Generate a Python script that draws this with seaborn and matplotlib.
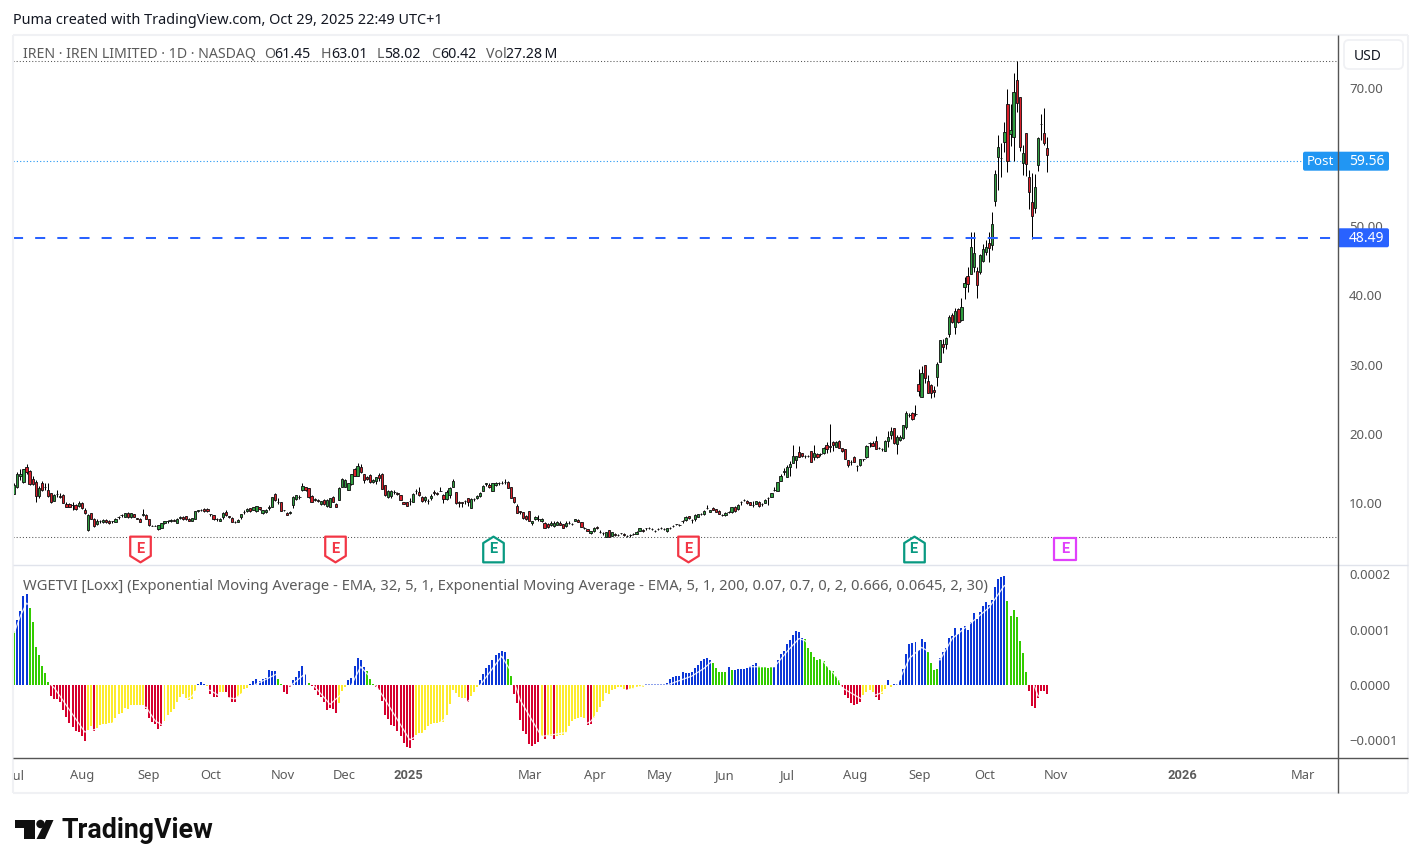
import numpy as np
import pandas as pd
import matplotlib
matplotlib.use("Agg")
import matplotlib.pyplot as plt
import matplotlib.transforms as mtransforms
from matplotlib.lines import Line2D
from matplotlib.patches import FancyBboxPatch, Polygon, Circle, Rectangle
from matplotlib.path import Path
import seaborn as sns

# Daily IREN prices, one entry per session
opens = [
    11.5,12.4,14.1,13.2,15.4,14.7,13.6,13.2,11.1,13.1,
    12.45,12.0,11.55,10.4,11.5,11.2,11.3,10.0,10.0,9.85,
    9.85,9.75,10.2,9.1,6.2,8.65,7.9,7.05,7.55,7.35,
    7.7,7.55,7.55,7.45,8.05,8.35,8.15,8.7,8.1,8.55,
    7.95,7.85,8.45,8.45,7.8,6.85,6.85,6.45,6.6,7.2,
    7.5,7.6,7.65,7.3,8.0,8.1,8.2,7.9,7.6,7.9,
    9.05,9.1,9.3,9.3,8.55,8.35,7.85,7.6,8.05,8.8,
    8.2,8.0,7.4,7.45,8.1,8.8,9.0,9.35,9.15,9.0,
    9.5,8.65,8.8,9.4,9.6,11.4,10.3,10.3,9.1,8.75,
    8.65,9.9,10.75,11.05,12.0,12.4,12.25,11.2,10.65,10.55,
    10.05,10.65,9.75,9.6,11.05,10.0,10.65,12.5,12.5,12.0,
    12.85,15.0,14.1,15.4,14.3,13.85,14.2,13.15,13.3,14.2,
    14.3,12.75,11.05,11.2,11.8,11.55,11.3,10.3,10.25,10.4,
    10.35,11.85,11.7,11.05,10.55,10.5,10.85,11.7,11.55,11.9,
    11.3,10.7,11.3,12.5,11.7,10.35,10.25,10.4,10.8,9.4,
    10.7,10.8,11.2,11.95,12.95,12.75,11.95,12.75,13.0,13.1,
    13.15,13.2,12.5,10.95,9.7,8.95,8.8,8.3,8.95,7.2,
    7.8,7.85,7.5,7.3,7.1,6.95,6.8,6.95,7.3,7.05,
    6.8,7.25,7.15,7.55,7.75,7.35,6.6,6.4,5.75,6.15,
    6.7,6.0,5.85,5.3,6.2,5.4,5.7,5.55,5.8,5.7,
    5.4,5.5,5.65,5.7,6.15,6.3,6.5,6.55,6.45,6.15,
    6.35,6.55,6.45,6.05,6.6,6.85,7.05,7.0,7.6,7.75,
    8.2,7.7,7.9,8.15,8.6,8.5,9.4,8.9,9.45,9.25,
    9.05,8.35,8.35,8.9,8.8,9.6,9.25,10.35,10.55,10.45,
    10.3,9.9,10.05,10.35,10.0,10.2,10.8,11.05,12.0,11.9,
    13.35,14.65,13.95,15.3,15.95,16.3,17.55,17.35,16.95,17.0,
    17.6,16.75,17.3,17.25,17.35,18.55,18.45,18.9,18.3,19.05,
    18.05,17.9,16.35,16.1,16.75,15.5,15.7,16.45,16.8,18.85,
    18.75,19.05,18.1,17.9,17.65,19.1,20.0,20.95,18.7,19.25,
    19.5,21.17,22.9,23.1,23.0,27.4,25.5,30.05,27.85,27.2,
    26.45,28.4,30.57,33.2,33.2,34.6,37.3,35.65,38.25,36.65,
    41.3,42.9,43.3,44.2,43.65,43.6,45.15,46.5,47.7,47.45,
    53.85,60.1,60.0,62.4,67.8,63.45,63.1,71.25,68.8,59.25,
    63.6,57.25,53.6,52.75,58.95,64.9,63.6,61.45,
]
highs = [
    13.0,14.6,15.0,15.1,15.8,14.9,14.1,13.5,12.6,13.3,
    13.0,13.0,11.6,11.5,12.0,11.6,11.4,10.3,10.1,10.3,
    10.0,10.5,10.3,9.4,8.5,8.7,8.0,7.9,7.7,7.8,
    7.9,7.7,7.6,8.0,8.2,8.5,8.7,8.8,8.7,8.6,
    8.0,7.95,9.3,8.6,7.85,6.9,6.9,6.95,7.25,7.6,
    7.7,7.8,7.85,8.0,8.2,8.2,8.3,8.0,8.0,9.0,
    9.2,9.25,9.4,9.4,8.6,8.4,8.0,7.95,8.8,9.1,
    8.3,8.1,7.5,7.8,8.6,9.1,9.4,9.45,9.6,9.7,
    9.6,9.2,9.3,9.8,11.0,11.55,10.85,10.35,9.2,8.8,
    8.95,11.1,11.3,11.3,13.1,12.5,12.3,11.3,10.85,10.7,
    10.5,10.7,10.7,10.9,11.1,10.1,12.4,13.7,13.6,13.1,
    14.4,15.2,15.9,15.8,14.4,14.1,14.3,13.6,13.9,14.5,
    14.45,12.8,12.0,12.0,12.0,11.7,11.35,10.35,10.3,10.9,
    11.6,12.2,12.4,11.1,11.1,10.7,11.5,12.0,11.8,12.4,
    11.4,12.0,12.5,13.6,11.7,10.5,10.3,10.6,10.9,10.8,
    10.85,11.3,11.7,12.75,13.1,13.0,13.1,13.25,13.2,13.3,
    13.55,13.3,12.5,11.0,10.0,9.0,8.85,8.4,9.0,7.6,
    8.3,8.35,8.0,7.4,7.2,7.6,7.5,7.5,7.5,7.1,
    7.6,7.55,7.25,7.9,7.8,7.4,6.7,6.45,6.15,6.7,
    6.8,6.3,6.0,6.0,6.3,6.0,5.8,5.6,5.85,5.75,
    5.5,5.6,5.75,6.1,6.6,6.4,6.6,6.65,6.55,6.25,
    6.5,6.65,6.5,6.6,6.7,6.95,7.15,7.1,7.75,8.2,
    8.3,7.85,8.5,8.6,8.7,9.1,9.9,9.2,9.55,9.3,
    9.1,8.5,8.8,9.0,9.55,9.7,9.95,10.5,10.7,10.6,
    10.35,10.4,10.45,10.4,10.1,10.7,11.0,11.6,12.5,13.2,
    14.3,15.15,15.6,16.2,18.5,17.0,18.4,17.4,17.1,17.15,
    17.7,18.6,17.35,17.4,18.2,19.0,21.55,19.1,19.15,19.2,
    18.1,18.0,16.4,16.3,17.0,15.6,16.5,16.55,18.5,19.0,
    19.1,19.8,18.3,18.1,19.2,20.5,21.2,21.0,20.0,20.0,
    21.45,23.4,23.2,23.25,24.3,29.5,29.95,30.1,28.6,27.35,
    27.0,30.5,33.7,33.85,34.2,37.3,37.65,38.4,38.4,39.85,
    42.85,44.2,49.3,49.3,44.2,46.2,47.6,48.15,49.3,52.15,
    58.3,63.35,62.15,65.2,69.95,67.8,72.25,74.0,68.9,61.9,
    63.7,58.3,57.8,57.7,63.0,66.4,67.2,63.01,
]
lows = [
    11.4,12.3,13.5,13.1,14.3,12.8,12.8,10.3,10.9,11.9,
    12.0,11.0,10.2,10.4,11.0,10.9,10.1,9.5,9.5,9.2,
    9.1,9.6,9.3,8.6,6.1,7.8,6.7,7.0,7.3,7.2,
    7.3,7.1,7.3,7.4,7.9,8.1,8.1,8.0,8.0,8.1,
    7.8,7.4,8.3,7.9,6.85,6.75,6.75,6.3,6.55,7.05,
    7.3,7.4,7.5,7.2,7.8,7.7,7.7,7.5,7.5,7.85,
    8.8,9.0,8.9,8.9,8.3,7.75,7.6,7.5,7.9,8.3,
    8.0,7.4,7.3,7.4,7.9,8.5,8.9,8.9,9.1,8.9,
    9.2,8.55,8.7,9.1,9.5,10.5,10.0,9.0,9.05,8.45,
    8.6,9.4,10.6,10.7,11.9,11.9,10.9,10.3,10.4,10.3,
    9.9,9.9,9.6,9.5,10.3,9.5,10.6,12.4,12.4,12.0,
    12.8,14.0,14.0,14.5,13.0,13.4,13.1,13.0,12.9,13.3,
    12.1,11.2,10.9,10.8,11.5,11.3,10.55,9.95,9.7,9.9,
    10.3,11.5,11.2,10.3,10.3,10.05,10.6,11.3,11.3,11.85,
    10.2,10.6,10.9,12.4,10.0,9.6,9.5,10.0,9.7,9.35,
    10.5,10.7,11.0,11.9,12.6,12.3,11.9,12.6,12.8,12.9,
    12.9,12.3,10.9,10.2,8.7,8.6,7.9,7.75,7.55,6.9,
    7.75,7.6,7.45,6.55,6.6,6.8,6.7,6.9,6.9,6.5,
    6.7,7.1,7.0,7.5,7.4,6.65,6.35,6.05,5.6,5.9,
    6.4,5.85,5.45,5.2,5.2,5.35,5.35,5.4,5.6,5.4,
    5.2,5.3,5.5,5.6,6.1,6.0,6.3,6.4,6.2,5.9,
    6.2,6.4,6.3,6.0,6.4,6.7,6.9,6.8,7.3,7.6,
    7.9,7.3,7.6,8.1,8.4,8.45,9.3,8.85,9.1,8.85,
    8.55,8.2,8.3,8.7,8.75,8.9,9.2,9.9,10.4,10.05,
    9.85,9.5,10.0,9.6,9.7,10.15,9.9,11.0,11.9,11.85,
    13.3,14.2,13.9,14.05,15.9,15.2,16.8,16.8,16.6,16.75,
    16.05,16.3,16.6,16.9,17.2,17.4,17.55,17.6,18.2,18.1,
    17.5,16.45,15.4,15.7,16.05,14.8,15.5,16.2,16.7,18.3,
    18.4,17.9,17.9,17.7,17.6,18.2,19.4,18.7,17.3,19.1,
    19.4,20.85,22.6,22.2,22.7,25.65,25.4,27.5,26.0,25.35,
    25.5,27.1,30.5,31.9,32.45,34.2,36.2,34.6,36.1,36.5,
    39.65,40.65,43.2,43.6,39.8,43.3,45.0,46.0,45.0,46.7,
    53.1,55.4,57.3,60.95,58.05,61.75,59.65,66.6,61.05,57.55,
    57.4,52.7,48.3,52.1,58.2,62.6,61.9,58.02,
]
closes = [
    12.8,14.4,14.4,15.0,14.6,12.9,12.9,11.2,12.3,12.0,
    12.4,11.2,10.25,11.3,11.45,11.0,10.2,9.5,9.55,9.8,
    9.3,10.1,9.4,8.65,8.4,7.9,6.75,7.6,7.5,7.7,
    7.45,7.2,7.5,7.9,8.1,8.4,8.65,8.05,8.65,8.15,
    7.9,7.45,8.5,7.9,6.9,6.8,6.8,6.9,7.2,7.55,
    7.55,7.65,7.6,7.8,8.05,7.8,7.8,7.5,7.95,8.95,
    9.1,9.15,8.95,8.95,8.6,7.8,7.9,7.9,8.65,8.35,
    8.15,7.45,7.4,7.75,8.55,8.8,9.3,8.95,9.5,9.65,
    9.25,9.1,9.2,9.5,10.95,10.55,10.35,9.05,9.15,8.45,
    8.85,11.05,11.3,11.0,12.65,12.0,10.95,10.35,10.7,10.5,
    10.4,10.0,10.65,10.8,10.35,9.55,12.35,13.56,13.5,13.0,
    14.35,14.1,15.5,14.6,13.4,13.55,13.2,13.45,13.85,13.7,
    12.1,11.3,11.9,11.9,11.8,11.5,10.6,10.0,9.75,10.45,
    11.45,11.9,11.3,10.45,10.95,10.5,11.15,11.65,11.5,11.95,
    10.7,11.8,12.25,13.3,10.1,10.1,10.2,10.45,10.25,10.7,
    10.75,11.2,11.55,12.6,13.0,12.4,13.0,13.1,13.05,13.1,
    13.2,12.35,10.9,10.25,8.75,8.9,7.95,7.8,7.6,7.55,
    8.1,7.8,7.85,6.6,6.7,7.3,7.2,7.35,7.0,6.6,
    7.3,7.3,7.15,7.8,7.45,6.7,6.6,6.1,6.1,6.6,
    6.5,6.0,5.85,5.9,5.3,5.9,5.45,5.55,5.8,5.45,
    5.4,5.5,5.65,6.0,6.5,6.05,6.55,6.6,6.45,6.15,
    6.4,6.55,6.45,6.55,6.6,6.85,7.05,7.0,7.6,8.1,
    7.95,7.7,8.4,8.5,8.6,9.0,9.45,9.15,9.15,8.9,
    8.6,8.35,8.75,8.9,9.5,8.95,9.85,10.35,10.55,10.1,
    9.9,9.9,10.4,9.65,10.0,10.6,10.8,11.55,12.0,13.15,
    14.05,14.7,15.3,15.8,16.95,16.95,16.85,16.95,16.95,17.0,
    16.1,17.35,16.85,17.25,18.1,17.9,18.2,18.6,19.0,18.15,
    17.7,16.5,15.7,16.1,16.1,15.5,16.45,16.5,18.4,18.85,
    18.45,18.0,18.1,17.95,19.05,19.65,20.6,18.75,19.75,19.65,
    21.4,23.15,22.9,22.3,23.0,26.4,29.0,28.15,26.1,26.1,
    26.25,30.2,33.65,32.75,33.95,37.1,36.35,37.85,36.25,38.55,
    41.9,41.75,47.1,46.25,41.7,45.95,46.8,47.1,47.0,50.5,
    57.7,61.55,60.05,63.75,59.65,64.1,69.5,67.95,61.65,60.7,
    59.1,55.15,51.7,55.8,62.9,64.95,62.25,60.42,
]

# WGETVI histogram, in millionths, with the state of each bar
wge_millionths = [
    98,118,134,161,165,139,114,68,54,34,22,5,
    -20,-25,-26,-30,-45,-57,-68,-76,-83,-85,-93,-102,
    -81,-74,-83,
    -77,-72,-71,-70,-69,-68,-60,-52,-50,-42,-43,-36,-36,-36,-36,-36,
    -43,-59,-67,-71,-79,-74,
    -65,-54,-49,-43,-30,-22,-17,-24,-28,-26,-10,
    1,5,2,-2,-16,-22,-22,-12,-12,-12,-24,-30,-30,-22,-16,-7,-5,
    1,8,11,7,11,12,27,26,25,11,2,-12,-16,-4,
    9,14,25,34,20,4,
    -2,-9,-18,-22,-30,-45,-42,-43,-51,-33,-10,-4,9,
    12,34,48,46,33,25,11,1,
    -3,-9,-29,-54,-62,-72,-75,-84,-93,-104,-112,-114,-99,
    -90,-86,-87,-81,-74,-71,-69,-69,-67,-66,-55,-34,-9,-15,-21,-24,-24,
    -31,-20,-12,-3,
    9,19,30,36,46,54,58,62,60,47,16,
    -16,-33,-63,-83,-89,-107,-110,-107,-103,-93,-98,-92,-92,-98,
    -92,-90,-90,-86,-75,-65,-62,-59,-57,-60,-72,-71,
    -59,-48,-39,-29,-15,-16,-9,-8,-4,-4,-7,-9,-7,-7,-3,-3,-3,
    1,2,1,1,1,1,1,4,10,14,16,17,23,21,21,24,31,37,
    43,47,48,46,40,31,24,24,24,32,27,
    28,29,29,29,30,35,36,39,34,33,33,31,33,
    33,45,56,62,74,81,90,98,95,85,
    83,67,60,51,45,47,44,35,27,25,16,9,
    -4,-18,-24,-33,-36,-34,-31,-18,-13,-9,-13,-21,-27,-16,-7,9,-3,
    1,1,9,29,56,74,76,77,63,83,78,60,40,27,29,
    49,60,67,85,89,103,92,103,107,99,114,130,119,132,143,150,145,154,177,192,195,197,
    152,125,136,123,80,58,24,
    -11,-38,-42,-24,-10,-10,-16,
]
wge_states = (
    "g" + "b"*4 + "g"*7 + "r"*12 + "y"*2 + "r" + "y"*16 + "r"*6 + "y"*11
    + "b"*3 + "y" + "r"*3 + "y"*2 + "r"*4 + "y"*4 + "b"*9 + "g"*2 + "r"*3
    + "b"*5 + "g" + "r"*9 + "y"*3 + "b"
    + "b"*5 + "g"*3 + "r"*13 + "y"*17 + "r" + "y"*3 + "b"*9 + "g"*2 + "r"*9
    + "y" + "r" + "y"*2 + "r" + "y"*10 + "r"*2 + "y"*11 + "r" + "y"*5 + "b"*18
    + "b"*4 + "g"*5 + "b" + "g" + "b"*8 + "g"*5 + "b"*10 + "g"*12 + "r"*7
    + "y"*4 + "r"*2 + "y"*2 + "b" + "y" + "b"*11 + "g"*4 + "b"*22 + "g"*7 + "r"*7
)

# Signal line running over the histogram
signal_bars = [0,2,4,6,10,12,13,17,23,30,40,43,46,49,55,58,60,64,67,72,76,78,86,88,90,95,97,98,103,106,
               110,113,116,120,129,136,149,152,159,162,165,172,181,188,196,206,213,221,225,
               228,240,248,252,256,258,269,270,276,277,282,288,292,296,300,302,306,318,323,325,330,332,334,337]
signal_millionths = [95,125,148,140,60,0,-5,-37,-85,-75,-45,-40,-65,-75,-30,-20,-5,-10,-20,-25,-8,-1,21,5,-2,21,5,-3,-35,-20,
                     0,33,15,-18,-99,-80,-25,0,52,25,-27,-93,-85,-66,-15,0,0,16,30,
                     45,33,33,60,84,80,10,-5,-24,-25,-16,0,48,68,55,45,84,140,180,170,90,10,-20,-18]

# Earnings markers along the bottom of the price pane
earnings_past_miss = [41.0, 104.6, 219.7]
earnings_past_beat = [156.1, 293.4]
earnings_next = [342.7]

month_positions = [0.9,22.1,43.9,64.1,87.6,107.5,128.7,168.2,189.4,210.6,231.8,252.3,274.2,295.4,316.6,339.7,381.0,420.5]
month_labels = ["Jul","Aug","Sep","Oct","Nov","Dec","2025","Mar","Apr","May","Jun","Jul","Aug","Sep","Oct","Nov","2026","Mar"]
price_ticks = [10,20,30,40,50,70]
wge_ticks = [-0.0001,0.0,0.0001,0.0002]
wge_tick_labels = ["\u22120.0001","0.0000","0.0001","0.0002"]

session_high = 74.0
session_low = 5.2
last_post = 59.56
line_level = 48.49

sns.set_theme(style="white")
UI_FONT = ["Noto Sans","DejaVu Sans"]
BOLD_FONT = ["Roboto","DejaVu Sans"]
plt.rcParams["font.family"] = UI_FONT
W, H = 1421, 868
fig = plt.figure(figsize=(W/100, H/100), dpi=100, facecolor="white")
pix = mtransforms.Affine2D().scale(1/W, -1/H).translate(0, 1) + fig.transFigure

L, R, T, M, B = 13, 1338, 35, 565, 758
ax = fig.add_axes([L/W, 1-M/H, (R-L)/W, (M-T)/H])
axi = fig.add_axes([L/W, 1-B/H, (R-L)/W, (B-M)/H])

bars = np.arange(len(opens))
candles = pd.DataFrame({"bar":bars,"open":opens,"high":highs,"low":lows,"close":closes})
indicator = pd.DataFrame({"bar":bars,"wge":np.array(wge_millionths)*1e-6,"state":list(wge_states)})

# price pane
up = candles["close"] >= candles["open"]
ax.vlines(candles["bar"], candles["low"], candles["high"], color="black", lw=0.72, zorder=2, antialiased=True)
ax.bar(candles["bar"], (candles["close"]-candles["open"]).abs(),
       bottom=candles[["open","close"]].min(axis=1), width=0.74,
       color=np.where(up,"#2f9e40","#d81f2a"), edgecolor="#111111", linewidth=0.62, zorder=3)

DOT = (0,(1,2))
ax.axhline(session_high, color="#555555", lw=0.75, ls=DOT, zorder=1)
ax.axhline(session_low, color="#555555", lw=0.75, ls=DOT, zorder=1)
ax.axhline(last_post, color="#2196f3", lw=0.8, ls=DOT, zorder=1)
ax.axhline(line_level, color="#2962ff", lw=1.45, ls=(0,(5,6)), zorder=4, dash_capstyle="butt")

def earnings_marker(verts):
    return Path(verts + [verts[0]], closed=True)

shield = earnings_marker([(-0.8,1),(0.8,1),(0.8,-0.5),(0,-1),(-0.8,-0.5)])
house = earnings_marker([(-0.8,-1),(0.8,-1),(0.8,0.5),(0,1),(-0.8,0.5)])
square = earnings_marker([(-0.9,-0.9),(0.9,-0.9),(0.9,0.9),(-0.9,0.9)])
mark_level = 3.49
for xs, mk, col, sz in [(earnings_past_miss,shield,"#f23645",18.5),
                        (earnings_past_beat,house,"#089981",18.5),
                        (earnings_next,square,"#e040fb",16.0)]:
    ax.scatter(xs,[mark_level]*len(xs),marker=mk,s=sz**2,facecolor="white",edgecolor=col,linewidth=1.6,zorder=5,clip_on=False)
    for x in xs:
        ax.text(x,mark_level,"E",color=col,ha="center",va="center",fontsize=10.5,
                fontfamily=BOLD_FONT,fontweight="bold",zorder=6)

xlim = ((L-14.3)/3.0653, (R-14.3)/3.0653)
ax.set_xlim(xlim)
ax.set_ylim(10-(M-504)/6.917, 10+(504-T)/6.917)
ax.set_xticks([])
ax.yaxis.tick_right()
ax.set_yticks(price_ticks)
ax.set_yticklabels([f"{v:.2f}" for v in price_ticks])
ax.tick_params(axis="y",length=0,pad=7.9,labelsize=9.5,labelcolor="#5b5b5b")
nudge_up = mtransforms.ScaledTranslation(0, 1/100, fig.dpi_scale_trans)
for lab in ax.get_yticklabels():
    lab.set_transform(lab.get_transform() + nudge_up)

# indicator pane
sns.barplot(data=indicator,x="bar",y="wge",hue="state",
            palette={"b":"#0c38d8","g":"#33cc00","r":"#d6002d","y":"#fdeb2d"},
            dodge=False,native_scale=True,width=0.65,saturation=1,errorbar=None,
            legend=False,linewidth=0,antialiased=False,ax=axi)
sns.lineplot(x=signal_bars,y=np.array(signal_millionths)*1e-6,color="white",lw=0.9,alpha=0.85,
             estimator=None,ax=axi,zorder=5)
axi.set_xlim(xlim)
axi.set_ylim((685-B)*1.808e-6,(685-M)*1.808e-6)
axi.set_xlabel("")
axi.set_ylabel("")
axi.yaxis.tick_right()
axi.set_yticks(wge_ticks)
axi.set_yticklabels(wge_tick_labels)
axi.set_xticks(month_positions)
axi.set_xticklabels(month_labels)
axi.tick_params(axis="y",length=0,pad=7.9,labelsize=9.4,labelcolor="#5b5b5b")
axi.tick_params(axis="x",length=0,pad=8.2,labelsize=9.3,labelcolor="#5b5b5b")
for lab in axi.get_xticklabels():
    if lab.get_text() in ("2025","2026"):
        lab.set_fontfamily(BOLD_FONT)
        lab.set_fontweight("bold")
for a in (ax,axi):
    for s in a.spines.values():
        s.set_visible(False)
    a.patch.set_alpha(0)

# frame and separators
fig.add_artist(Rectangle((0,B+1),L-0.5,34,transform=pix,fc="white",ec="none",zorder=1))
def rule(x0,y0,x1,y1,col,lw,z=4):
    fig.add_artist(Line2D([x0,x1],[y0,y1],transform=pix,color=col,lw=lw,zorder=z,solid_capstyle="butt"))
FRAME = "#f0f1f4"
rule(L,T,1408,T,FRAME,1.5)
rule(L,793,1408,793,FRAME,1.5)
rule(L,T,L,793,FRAME,1.5)
rule(1408,T,1408,793,FRAME,1.5)
rule(L,M,1408,M,"#e0e3eb",1.0)
rule(L,B,1408,B,"#555555",1.0)
rule(R,T,R,793,"#555555",1.0,z=8)

# scale tags
def price_px(v):
    return pix.inverted().transform(ax.transData.transform((0,v)))[1]
def tag(x0,x1,yc,col):
    fig.add_artist(FancyBboxPatch((x0,yc-9.5),x1-x0,19,boxstyle="round,pad=0,rounding_size=2",
                                  transform=pix,fc=col,ec="none",zorder=6))
def ptext(x,y,s,**kw):
    kw.setdefault("va","center")
    kw.setdefault("ha","left")
    kw.setdefault("zorder",7)
    fig.text(x,y,s,transform=pix,**kw)
yp = price_px(last_post)
tag(1303,1389,yp,"#2196f3")
ptext(1307,yp+0.8,"Post",color="white",fontsize=9.6)
ptext(1349,yp+0.8,f"{last_post:.2f}",color="white",fontsize=10)
yl = price_px(line_level)
tag(1338,1389,yl,"#2962ff")
ptext(1349,yl+0.8,f"{line_level:.2f}",color="white",fontsize=10)

fig.add_artist(FancyBboxPatch((1344,40),59,29,boxstyle="round,pad=0,rounding_size=5",transform=pix,
                              fc="white",ec="#f0f1f4",lw=1.3,zorder=6))
ptext(1354,56,"USD",color="#131722",fontsize=10)

# header and legends
GREY = "#5b5b5b"
ptext(13,20,"Puma created with TradingView.com, Oct 29, 2025 22:49 UTC+1",color="#131722",fontsize=10.42)
ptext(23,54.5,"IREN \u00b7 IREN LIMITED \u00b7 1D \u00b7 NASDAQ",color=GREY,fontsize=10.2)
for x, letter, xv, value in [(264,"O",274,"61.45"),(321,"H",331,"63.01"),(377,"L",384,"58.02"),
                             (431,"C",440,"60.42"),(486,"Vol",506,"27.28\u2009M")]:
    ptext(x,54.5,letter,color=GREY,fontsize=10.2)
    ptext(xv,54.5,value,color="#131722",fontsize=10.2)
ptext(23,586.5,"WGETVI [Loxx] (Exponential Moving Average - EMA, 32, 5, 1, Exponential Moving Average - EMA, 5, 1, 200, 0.07, 0.7, 0, 2, 0.666, 0.0645, 2, 30)",
      color=GREY,fontsize=10.62)

# wordmark
INK = "#0f0f0f"
fig.add_artist(Polygon([(15,820),(35,820),(35,839),(24,839),(24,828),(15,828)],transform=pix,fc=INK,ec="none",zorder=6))
fig.add_artist(Circle((40.5,824),4.2,transform=pix,fc=INK,ec="none",zorder=6))
fig.add_artist(Polygon([(46,820),(53.5,820),(45,839),(36.5,839)],transform=pix,fc=INK,ec="none",zorder=6))
ptext(61,831,"TradingView",color=INK,fontsize=19.3,fontfamily=BOLD_FONT,fontweight="bold")

fig.savefig("out.png",dpi=100,facecolor="white")
